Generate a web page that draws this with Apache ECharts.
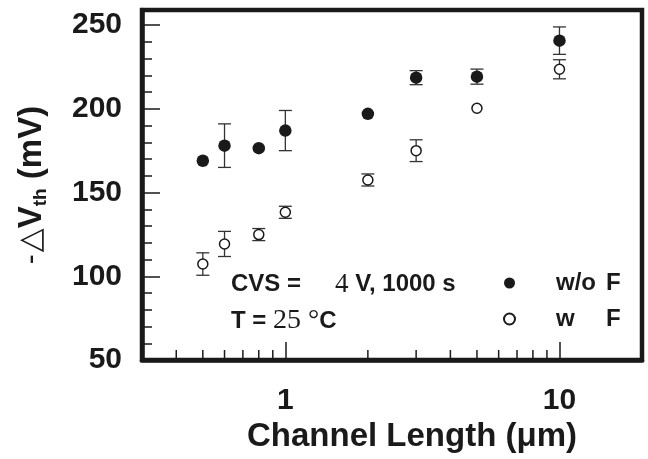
<!DOCTYPE html>
<html>
<head>
<meta charset="utf-8">
<script src="https://cdn.jsdelivr.net/npm/echarts@6/dist/echarts.min.js"></script>
<style>
html, body { margin: 0; padding: 0; background: #fff; }
#main { width: 648px; height: 459px; }
</style>
</head>
<body>
<div id="main"></div>
<script>
// channel length (um)
var lengths = [0.5, 0.6, 0.8, 1, 2, 3, 5, 10];
// -dVth (mV) without F, with its error bars
var woF = [169, 178, 176.5, 187, 197, 218.6, 219.2, 240.7];
var woFErr = [0, 13, 0, 12, 0, 4.2, 4.5, 8.2];
// -dVth (mV) with F
var wF = [107.3, 119.3, 124.9, 138.2, 157.5, 175, 200.3, 223.6];
var wFErr = [6.7, 7.5, 3.6, 3.6, 3.6, 6.5, 0, 5.7];
// axis ticks
var xLabels = [1, 10];
var xMinor = [0.4, 0.5, 0.6, 0.7, 0.8, 0.9, 2, 3, 4, 5, 6, 7, 8, 9];
var yMin = 50, yMax = 259;

var ink = '#1a1a1a';
var sans = '"Liberation Sans", Arial, sans-serif';
var serif = '"Liberation Serif", "Times New Roman", serif';

function points(vals) {
    return lengths.map(function (l, i) { return [l, vals[i]]; });
}

function errData(vals, errs) {
    var out = [];
    for (var i = 0; i < lengths.length; i++) {
        if (errs[i] > 0) out.push([lengths[i], vals[i] - errs[i], vals[i] + errs[i]]);
    }
    return out;
}

function renderErr(params, api) {
    var lo = api.coord([api.value(0), api.value(1)]);
    var hi = api.coord([api.value(0), api.value(2)]);
    var w = 6.5;
    var st = { stroke: '#333', lineWidth: 1.3 };
    return {
        type: 'group',
        children: [
            { type: 'line', shape: { x1: lo[0], y1: lo[1], x2: hi[0], y2: hi[1] }, style: st },
            { type: 'line', shape: { x1: lo[0] - w, y1: lo[1], x2: lo[0] + w, y2: lo[1] }, style: st },
            { type: 'line', shape: { x1: hi[0] - w, y1: hi[1], x2: hi[0] + w, y2: hi[1] }, style: st }
        ]
    };
}

// minor ticks of the log axis (2..9 per decade), pointing inward
function renderMinorTick(params, api) {
    var p = api.coord([api.value(0), api.value(1)]);
    return {
        type: 'line',
        shape: { x1: p[0], y1: p[1], x2: p[0], y2: p[1] - 10 },
        style: { stroke: ink, lineWidth: 1.5 }
    };
}

var myChart = echarts.init(document.getElementById('main'));

var option = {
    animation: false,
    backgroundColor: '#fff',
    grid: {
        left: 142, right: 6, top: 10, bottom: 99,
        show: true, borderColor: ink, borderWidth: 4.5
    },
    xAxis: {
        type: 'log',
        logBase: 10,
        min: 0.3,
        max: 20,
        axisLine: { lineStyle: { color: ink, width: 4.5 } },
        axisTick: { inside: true, length: 18, lineStyle: { color: ink, width: 1.5 } },
        axisLabel: {
            margin: 26,
            color: ink,
            fontFamily: sans,
            fontWeight: 'bold',
            fontSize: 30,
            formatter: function (v) {
                for (var i = 0; i < xLabels.length; i++) {
                    if (Math.abs(v - xLabels[i]) < 1e-6) return String(xLabels[i]);
                }
                return '';
            }
        },
        splitLine: { show: false },
        name: 'Channel Length (\u03bcm)',
        nameLocation: 'middle',
        nameGap: 59,
        nameTextStyle: {
            color: ink, fontFamily: sans, fontWeight: 'bold', fontSize: 33,
            padding: [0, 0, 0, 40]
        }
    },
    yAxis: [{
        type: 'value',
        min: yMin,
        max: yMax,
        interval: 50,
        axisLine: { lineStyle: { color: ink, width: 4.5 } },
        axisTick: { inside: true, length: 18, lineStyle: { color: ink, width: 1.5 } },
        axisLabel: {
            margin: 20,
            color: ink,
            fontFamily: sans,
            fontWeight: 'bold',
            fontSize: 30,
            formatter: function (v) { return v % 50 === 0 ? String(v) : ''; }
        },
        splitLine: { show: false },
        name: '{m|-}{d|\u25b3}{b|V}{sub|th}{b| (mV)}',
        nameLocation: 'middle',
        nameRotate: 90,
        nameGap: 92,
        nameTextStyle: {
            color: ink,
            rich: {
                m: { fontFamily: sans, fontSize: 30, color: ink, lineHeight: 36, padding: [0, 2, 0, 0] },
                d: { fontFamily: '"DejaVu Sans"', fontSize: 31, color: ink, lineHeight: 36 },
                b: { fontFamily: sans, fontWeight: 'bold', fontSize: 33, color: ink, lineHeight: 36 },
                sub: { fontFamily: sans, fontWeight: 'bold', fontSize: 19, color: ink, verticalAlign: 'bottom' }
            }
        }
    }, {
        type: 'value',
        min: yMin,
        max: yMax,
        interval: 10,
        position: 'left',
        axisLine: { show: false },
        axisTick: { inside: true, length: 10, lineStyle: { color: ink, width: 1.5 } },
        axisLabel: { show: false },
        splitLine: { show: false }
    }],
    legend: {
        orient: 'vertical',
        left: 503,
        top: 271,
        padding: 0,
        itemWidth: 11,
        itemHeight: 11,
        itemGap: 12,
        selectedMode: false,
        data: ['w/o F', 'w F'],
        formatter: function (name) {
            return name === 'w/o F' ? '{a|w/o}{b|F}' : '{a|w}{b|F}';
        },
        textStyle: {
            color: ink,
            padding: [0, 0, 0, 36],
            rich: {
                a: { fontFamily: sans, fontWeight: 'bold', fontSize: 24, color: ink, width: 50, lineHeight: 26 },
                b: { fontFamily: sans, fontWeight: 'bold', fontSize: 24, color: ink, lineHeight: 26 }
            }
        }
    },
    graphic: [{
        type: 'text',
        left: 231,
        top: 271,
        style: {
            text: '{a|CVS =}{r|4}{s| V, 1000 s}',
            rich: {
                a: { fontFamily: sans, fontWeight: 'bold', fontSize: 24, fill: ink, width: 104, lineHeight: 26 },
                r: { fontFamily: serif, fontSize: 27, fill: ink, lineHeight: 26 },
                s: { fontFamily: sans, fontWeight: 'bold', fontSize: 24, fill: ink, lineHeight: 26 }
            }
        }
    }, {
        type: 'text',
        left: 231,
        top: 307,
        style: {
            text: '{s|T = }{r|25 \u00b0}{s|C}',
            rich: {
                r: { fontFamily: serif, fontSize: 28, fill: ink, lineHeight: 26 },
                s: { fontFamily: sans, fontWeight: 'bold', fontSize: 24, fill: ink, lineHeight: 26 }
            }
        }
    }],
    series: [{
        type: 'custom',
        name: 'minorTicks',
        renderItem: renderMinorTick,
        data: xMinor.map(function (v) { return [v, yMin]; }),
        encode: { x: 0, y: 1 },
        silent: true,
        z: 3
    }, {
        type: 'custom',
        name: 'errWoF',
        renderItem: renderErr,
        data: errData(woF, woFErr),
        encode: { x: 0, y: [1, 2] },
        z: 2
    }, {
        type: 'custom',
        name: 'errWF',
        renderItem: renderErr,
        data: errData(wF, wFErr),
        encode: { x: 0, y: [1, 2] },
        z: 2
    }, {
        type: 'scatter',
        name: 'w/o F',
        symbol: 'circle',
        symbolSize: 12.5,
        itemStyle: { color: ink, opacity: 1 },
        data: points(woF),
        z: 5
    }, {
        type: 'scatter',
        name: 'w F',
        symbol: 'circle',
        symbolSize: 10,
        itemStyle: { color: '#fff', borderColor: ink, borderWidth: 1.5, opacity: 1 },
        data: points(wF),
        z: 5
    }]
};

myChart.setOption(option);
</script>
</body>
</html>
